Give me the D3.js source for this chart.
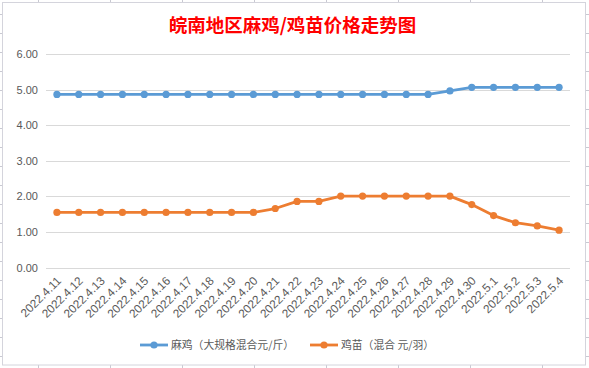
<!DOCTYPE html>
<html><head><meta charset="utf-8">
<script src="https://cdn.jsdelivr.net/npm/d3@7"></script>
<style>body{margin:0;background:#fff}svg{display:block}</style>
</head><body>
<svg id="c" width="589" height="368"></svg>
<script>
const categories = ["2022.4.11","2022.4.12","2022.4.13","2022.4.14","2022.4.15","2022.4.16","2022.4.17","2022.4.18","2022.4.19","2022.4.20","2022.4.21","2022.4.22","2022.4.23","2022.4.24","2022.4.25","2022.4.26","2022.4.27","2022.4.28","2022.4.29","2022.4.30","2022.5.1","2022.5.2","2022.5.3","2022.5.4"];
const majiValues = [4.87,4.87,4.87,4.87,4.87,4.87,4.87,4.87,4.87,4.87,4.87,4.87,4.87,4.87,4.87,4.87,4.87,4.87,4.97,5.07,5.07,5.07,5.07,5.07];
const jimiaoValues = [1.55,1.55,1.55,1.55,1.55,1.55,1.55,1.55,1.55,1.55,1.66,1.86,1.86,2.01,2.01,2.01,2.01,2.01,2.01,1.77,1.46,1.26,1.17,1.05];
const yTicks = [0,1,2,3,4,5,6];
const seriesNames = ["麻鸡（大规格混合元/斤）","鸡苗（混合 元/羽）"];
const title = "皖南地区麻鸡/鸡苗价格走势图";

const svg = d3.select("#c");
const W = 589, H = 368;

// spreadsheet grid stubs outside the chart box
const gridCol = "#c9c9d2";
const colX = d3.range(38, W, 72);
const rowY = d3.range(14, H, 19);
const g0 = svg.append("g").attr("stroke", gridCol).attr("stroke-width", 1);
colX.forEach(x => {
  g0.append("line").attr("x1", x+0.5).attr("x2", x+0.5).attr("y1", 0).attr("y2", 3);
  g0.append("line").attr("x1", x+0.5).attr("x2", x+0.5).attr("y1", 365).attr("y2", H);
});
rowY.forEach(y => {
  g0.append("line").attr("x1", 0).attr("x2", 3).attr("y1", y+0.5).attr("y2", y+0.5);
  g0.append("line").attr("x1", 585).attr("x2", W).attr("y1", y+0.5).attr("y2", y+0.5);
});
svg.append("rect").attr("x", 2.5).attr("y", 2.5).attr("width", 583).attr("height", 362.5)
  .attr("fill", "#fff").attr("stroke", "#d4d4dc").attr("stroke-width", 1);

// title
svg.append("text").attr("x", 292.5).attr("y", 32).attr("text-anchor", "middle")
  .attr("font-family", "'Noto Sans CJK SC', sans-serif").attr("font-weight", "bold")
  .attr("font-size", 18.5).attr("fill", "#ff0000").text(title);

const x = d3.scaleBand().domain(categories).range([46, 570]);
const y = d3.scaleLinear().domain([0, 6]).range([267.5, 54.3]);
const cx = d => x(d) + x.bandwidth() / 2;

// gridlines
const yAxis = d3.axisLeft(y).tickValues(yTicks).tickSize(-(570 - 46)).tickFormat(d3.format(".2f"));
const ga = svg.append("g").attr("transform", "translate(46,0)").call(yAxis);
ga.select(".domain").remove();
ga.selectAll(".tick line").attr("stroke", "#d9d9d9").attr("shape-rendering", "crispEdges");
ga.selectAll(".tick text").attr("x", -8).attr("fill", "#595959")
  .attr("font-family", "'Liberation Sans', Arial, sans-serif").attr("font-size", 11);

// x axis labels
const xAxis = d3.axisBottom(x).tickSize(0).tickPadding(0);
const gx = svg.append("g").attr("transform", "translate(0,267.5)").call(xAxis);
gx.select(".domain").remove();
gx.selectAll(".tick text")
  .attr("fill", "#595959").attr("font-family", "'Liberation Sans', Arial, sans-serif").attr("font-size", 11.8)
  .attr("text-anchor", "end").attr("dy", null).attr("y", 0)
  .attr("transform", "translate(5,14) rotate(-45)");

// series
const colors = ["#5b9bd5", "#ed7d31"];
[majiValues, jimiaoValues].forEach((vals, i) => {
  const data = categories.map((c, j) => ({c, v: vals[j]}));
  const line = d3.line().x(d => cx(d.c)).y(d => y(d.v));
  svg.append("path").datum(data).attr("d", line).attr("fill", "none")
    .attr("stroke", colors[i]).attr("stroke-width", 2.8).attr("stroke-linejoin", "round");
  svg.append("g").selectAll("circle").data(data).join("circle")
    .attr("cx", d => cx(d.c)).attr("cy", d => y(d.v)).attr("r", 3.6).attr("fill", colors[i]);
});

// legend
const legX = [140, 310];
seriesNames.forEach((n, i) => {
  const lg = svg.append("g").attr("transform", `translate(${legX[i]},345)`);
  lg.append("line").attr("x1", 0).attr("x2", 28).attr("y1", 0).attr("y2", 0)
    .attr("stroke", colors[i]).attr("stroke-width", 2.8);
  lg.append("circle").attr("cx", 14).attr("cy", 0).attr("r", 3.6).attr("fill", colors[i]);
  lg.append("text").attr("x", 31).attr("y", 4).attr("fill", "#595959")
    .attr("font-family", "'Noto Sans CJK SC', sans-serif").attr("font-size", 10.8).text(n);
});
</script>
</body></html>
